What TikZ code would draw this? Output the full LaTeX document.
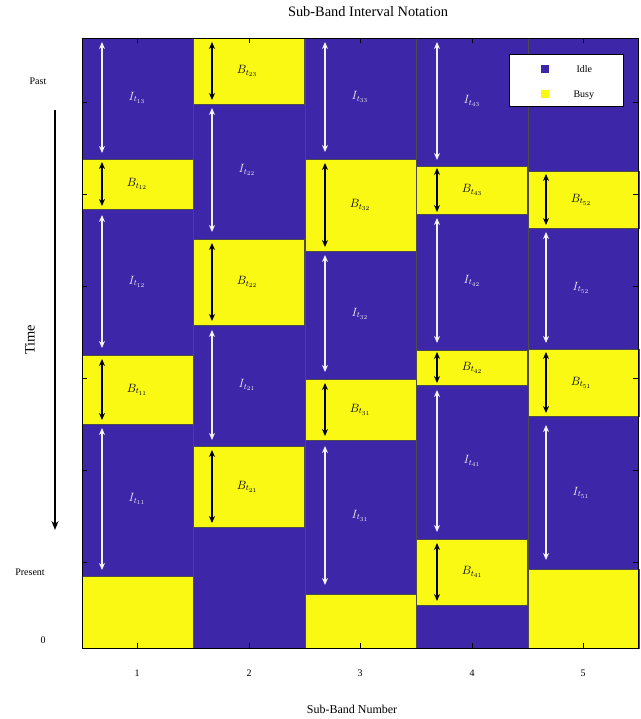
\documentclass[tikz,border=0pt]{standalone}
\usepackage{fontspec}
\setmainfont{Liberation Serif}
\usetikzlibrary{arrows.meta}
\definecolor{idle}{RGB}{62,38,168}
\definecolor{busy}{RGB}{249,249,20}
\begin{document}
\begin{tikzpicture}[x=1pt,y=-1pt,
  busybox/.style={fill=busy,draw=black!70,line width=0.5pt},
  iarr/.style={white!90!gray,line width=1.3pt,{Stealth[length=7pt,width=6pt]}-{Stealth[length=7pt,width=6pt]}},
  barr/.style={black,line width=1.5pt,{Stealth[length=7pt,width=6pt]}-{Stealth[length=7pt,width=6pt]}},
  ilab/.style={text=white!90!gray,font=\large},
  blab/.style={text=black,font=\large},
  ax/.style={font=\normalsize}]
\useasboundingbox (0,0) rectangle (640,719);
\fill[white] (0,0) rectangle (640,719);
\fill[idle] (82,38) rectangle (638,648);
% busy blocks
\foreach \l/\t/\b in {82/159/209,82/355/424,82/576/648,
  193/38/104,193/239/325,193/446/527,
  305/159/251,305/379/440,305/594/648,
  416/166/214,416/350/385,416/539/605,
  528/171/228,528/349/416,528/569/648}
  \filldraw[busybox] (\l,\t) rectangle (\l+111,\b);
% column dividers
\foreach \x in {193,305,416,528} \draw[black!70,line width=0.5pt] (\x,38) -- (\x,648);
\draw[black,line width=0.8pt] (82,38) rectangle (638,648);
% ticks
\foreach \x in {137,249,360,472,583} {\draw (\x,648) -- (\x,643); \draw (\x,38) -- (\x,43);}
\foreach \y in {102,194,286,378,470,562} {\draw (82,\y+0) -- (87,\y); \draw (638,\y) -- (633,\y);}
% idle arrows
\foreach \x/\t/\b/\n in {102/42/153/{13},102/215/348/{12},102/428/570/{11},
  212/108/232/{22},212/330/440/{21},
  325/42/152/{33},325/255/372/{32},325/446/585/{31},
  437/42/160/{43},437/218/343/{42},437/390/532/{41},
  546/232/343/{52},546/425/560/{51}} {
  \coordinate (ia) at (\x,\t); \coordinate (ib) at (\x,\b);
  \draw[iarr] (ia) -- (ib);
  \node[ilab] at (\x+35,{(\t+\b)/2}) {$I_{t_{\n}}$};
}
% busy arrows
\foreach \x/\t/\b/\n in {102/162/206/{12},102/359/420/{11},
  212/42/100/{23},212/243/321/{22},212/450/523/{21},
  325/163/247/{32},325/383/436/{31},
  437/168/212/{43},437/352/383/{42},437/543/601/{41},
  546/174/225/{52},546/352/413/{51}} {
  \coordinate (ba) at (\x,\t); \coordinate (bb) at (\x,\b);
  \draw[barr] (ba) -- (bb);
  \node[blab] at (\x+35,{(\t+\b)/2}) {$B_{t_{\n}}$};
}
% legend
\node[draw=black,fill=white,line width=0.8pt,minimum width=114pt,minimum height=52pt,inner sep=0pt] (leg) at (566,80) {};
\fill[idle] (541,65) rectangle (549,73);
\fill[busy] (541,90) rectangle (549,98);
\node[ax,anchor=west] (li) at (573,69) {Idle};
\node[ax,anchor=west] (lb) at (570,95) {Busy};
% axes labels
\node[font=\Large] (title) at (368,12) {Sub-Band Interval Notation};
\node[font=\large] (xl) at (352,709) {Sub-Band Number};
\foreach \x/\n in {137/1,249/2,360/3,472/4,583/5} \node[ax] at (\x,673) {\n};
\node[ax] (past) at (38,81) {Past};
\node[ax] (pres) at (30,572) {Present};
\node[ax] (zero) at (43,640) {0};
\node[font=\Large,rotate=90] (time) at (30,340) {Time};
\coordinate (ta) at (55,110); \coordinate (tb) at (55,530);
\draw[black,line width=1.5pt,-{Stealth[length=9pt,width=7pt]}] (ta) -- (tb);
\end{tikzpicture}
\end{document}
